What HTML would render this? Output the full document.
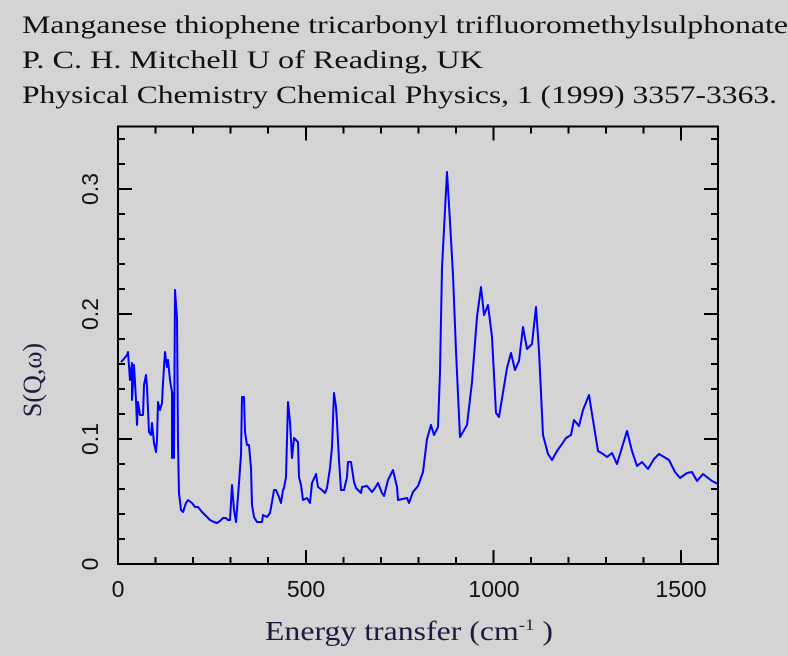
<!DOCTYPE html>
<html><head><meta charset="utf-8"><style>
html,body{margin:0;padding:0;background:#d4d4d4;}
svg{display:block;}
</style></head><body>
<svg width="788" height="656" viewBox="0 0 788 656" xmlns="http://www.w3.org/2000/svg">
<rect width="788" height="656" fill="#d4d4d4"/>
<g font-family="Liberation Serif, serif" font-size="25" fill="#111">
<text x="22" y="33" textLength="766" lengthAdjust="spacingAndGlyphs">Manganese thiophene tricarbonyl trifluoromethylsulphonate</text>
<text x="22" y="68" textLength="461" lengthAdjust="spacingAndGlyphs">P. C. H. Mitchell U of Reading, UK</text>
<text x="22" y="103" textLength="755" lengthAdjust="spacingAndGlyphs">Physical Chemistry Chemical Physics, 1 (1999) 3357-3363.</text>
</g>
<g stroke="#000" stroke-width="2" fill="none">
<rect x="118" y="126.5" width="600" height="437.5"/>
<path d="M118 564h14M118 539h7M118 514h7M118 489h7M118 464h7M118 439h14M118 414h7M118 389h7M118 364h7M118 339h7M118 314h14M118 289h7M118 264h7M118 239h7M118 214h7M118 189h14M118 164h7M118 139h7
M718 564h-14M718 539h-7M718 514h-7M718 489h-7M718 464h-7M718 439h-14M718 414h-7M718 389h-7M718 364h-7M718 339h-7M718 314h-14M718 289h-7M718 264h-7M718 239h-7M718 214h-7M718 189h-14M718 164h-7M718 139h-7
M155.5 564v-7M193 564v-7M230.5 564v-7M268 564v-7M306 564v-14M343.5 564v-7M381 564v-7M418.5 564v-7M456 564v-7M493.5 564v-14M531 564v-7M568.5 564v-7M606 564v-7M643.5 564v-7M681 564v-14
M155.5 126.5v7M193 126.5v7M230.5 126.5v7M268 126.5v7M306 126.5v14M343.5 126.5v7M381 126.5v7M418.5 126.5v7M456 126.5v7M493.5 126.5v14M531 126.5v7M568.5 126.5v7M606 126.5v7M643.5 126.5v7M681 126.5v14"/>
</g>
<g font-family="Liberation Sans, sans-serif" font-size="23" fill="#111" text-anchor="middle">
<text x="118" y="597">0</text>
<text x="306" y="597">500</text>
<text x="494" y="597">1000</text>
<text x="681" y="597">1500</text>
<text transform="translate(98,564) rotate(-90)">0</text>
<text transform="translate(98,439) rotate(-90)">0.1</text>
<text transform="translate(98,314) rotate(-90)">0.2</text>
<text transform="translate(98,189) rotate(-90)">0.3</text>
</g>
<g font-family="Liberation Serif, serif" fill="#201a40">
<text x="265" y="640" font-size="27" textLength="288" lengthAdjust="spacingAndGlyphs">Energy transfer (cm<tspan font-size="16" dy="-10">-1</tspan><tspan dy="10"> )</tspan></text>
<text transform="translate(41,380) rotate(-90)" font-size="26" text-anchor="middle">S(Q,ω)</text>
</g>
<polyline fill="none" stroke="#0000ff" stroke-width="2" stroke-linejoin="round" points="
121,362 123,360 127,355 128,352 130,380 132,363 132,400 134,365 136,400 137,425 138,402 140,415 143,415 144,385 146,375 147,387 149,432 151,435 152,423 154,443 156,452 157,440 158,402 160,410 162,403 163,383 165,352 167,367 168,360 170,380 172,392 172,458 174,393 174,458 175,290 177,318 178,443 179,493 181,510 183,512 186,503 188,500 192,503 195,507 198,507 202,512 207,517 210,520
214,522 217,523 220,521 223,518 226,518 228,520 230,520 232,485 234,510 236,522 239,483 241,455 242,397 244,397 245,432 247,445 249,445 251,468 252,505 254,517 257,522 262,522 263,515 267,517 270,513 272,502 274,490 276,490 279,497 281,503 283,490 284,488 286,477 288,402 290,422 292,458 294,438 298,442 299,477 301,485 303,500 307,498 310,503 312,483 316,474 318,487 322,490 325,493 327,488 330,468 332,447 334,393 336,407 337,422 339,460 341,490 344,490 347,477 348,462 351,462 354,482 356,488 358,490 361,493 362,487 367,486 372,492 375,488 378,483 382,493 384,496 388,480 393,470 397,487 398,500 407,498
409,503 413,492 418,486 423,472 427,439 431,425 434,435 438,427 440,372 442,268 445,210 447,172 448,188 451,239 453,275 456,351 460,437 467,425 472,382 477,317 481,287 484,315 488,305 492,337 496,413 499,417 507,368 511,353 515,370 519,361 523,327 527,349 532,344 536,307 539,351 543,435 548,454 552,460 557,451 562,444 566,438 571,435 574,420 579,426 583,410 589,395 593,420 598,451 603,454 607,457 612,453 617,464 627,431 632,451 637,466 642,462 648,469 654,459 659,454 669,460 675,472 680,478 687,473 692,472 697,481 703,474 712,481 718,484"/>
</svg>
</body></html>
